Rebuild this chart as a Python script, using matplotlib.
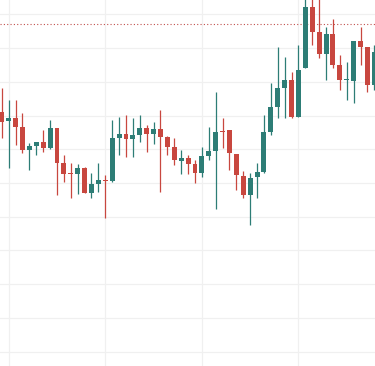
import matplotlib
matplotlib.use("Agg")
import matplotlib.pyplot as plt
import numpy as np

# OHLC data (arbitrary price units)
opens = [81.07, 78.40, 79.29, 76.62, 69.79, 70.98, 72.17, 70.39, 76.32, 65.93,
         62.97, 62.67, 64.45, 57.03, 59.70, 60.89, 60.59, 73.35, 74.54, 73.06,
         74.24, 76.32, 74.54, 76.02, 73.65, 70.68, 66.53, 67.42, 65.64, 62.97,
         68.01, 69.50, 75.43, 75.73, 68.61, 62.08, 56.44, 61.78, 63.26, 75.13,
         82.55, 88.19, 90.56, 79.58, 94.12, 112.23, 104.81, 98.28, 104.21, 95.01,
         90.56, 90.27, 102.14, 100.36, 89.08]
highs = [88.19, 84.63, 84.63, 80.77, 71.87, 72.30, 75.73, 78.69, 76.40, 68.31,
         65.93, 65.64, 64.60, 62.97, 65.93, 62.37, 78.69, 79.58, 80.18, 79.29,
         80.18, 77.21, 78.10, 81.66, 73.80, 73.35, 69.79, 68.31, 66.83, 70.68,
         76.62, 87.00, 79.29, 75.80, 68.70, 63.56, 62.97, 65.93, 80.18, 89.67,
         100.36, 97.39, 92.94, 100.95, 115.50, 115.80, 115.00, 106.29, 108.67, 97.98,
         95.91, 102.20, 106.29, 100.40, 100.95]
lows = [73.35, 64.45, 71.28, 68.90, 63.86, 68.31, 69.20, 70.20, 56.44, 60.30,
        55.55, 56.74, 56.90, 55.55, 57.33, 49.61, 60.30, 68.31, 67.72, 67.72,
        72.17, 69.20, 71.57, 57.33, 68.31, 65.34, 62.67, 62.67, 60.00, 61.78,
        66.83, 52.28, 70.39, 63.86, 57.92, 55.55, 47.54, 55.55, 62.97, 74.24,
        79.29, 79.29, 79.29, 79.50, 94.00, 100.95, 97.09, 90.56, 94.12, 87.60,
        84.63, 83.74, 95.01, 87.00, 87.60]
closes = [78.10, 79.29, 76.62, 69.79, 70.98, 72.17, 70.39, 76.32, 65.93, 62.67,
          62.67, 64.45, 57.03, 59.70, 60.89, 60.59, 73.35, 74.54, 73.06, 74.24,
          76.32, 74.54, 76.02, 73.65, 70.68, 66.83, 67.42, 65.64, 62.97, 68.01,
          69.50, 75.13, 75.13, 68.90, 62.37, 56.44, 61.48, 63.26, 75.13, 82.55,
          88.19, 90.56, 79.58, 93.53, 112.23, 104.81, 98.28, 104.21, 95.01, 90.56,
          90.86, 102.14, 100.36, 89.08, 98.87]
ref_level = 107.18
grid_prices = [110, 100, 90, 80, 70, 60, 50, 40, 30, 20, 10]
grid_idx = [1, 15, 29, 43]

up_color = "#2d7d76"
down_color = "#c8473f"

fig = plt.figure(figsize=(3.75, 3.66), dpi=100)
ax = fig.add_axes([0, 0, 1, 1])
ax.set_xlim(-0.26, 54.09)
ax.set_ylim(5.7, 114.3)
for s in ax.spines.values():
    s.set_visible(False)
ax.set_xticks([])
ax.set_yticks([])

for g in grid_prices:
    ax.axhline(g, color="#f0f0f0", lw=0.9, zorder=0)
for g in grid_idx:
    ax.axvline(g, color="#f0f0f0", lw=0.9, zorder=0)

x = np.arange(len(opens))
o = np.array(opens); h = np.array(highs); l = np.array(lows); c = np.array(closes)
cols = [up_color if cc >= oo else down_color for oo, cc in zip(o, c)]
ax.vlines(x, l, h, colors=cols, lw=0.9, zorder=2)
bottoms = np.minimum(o, c)
heights = np.maximum(np.abs(c - o), 0.35)
ax.bar(x, heights, bottom=bottoms, width=0.72, color=cols, linewidth=0, zorder=3)

ax.axhline(ref_level, color="#c0504d", lw=0.8, linestyle=(0, (1, 2)), zorder=1)

fig.savefig("out.png", dpi=100)
